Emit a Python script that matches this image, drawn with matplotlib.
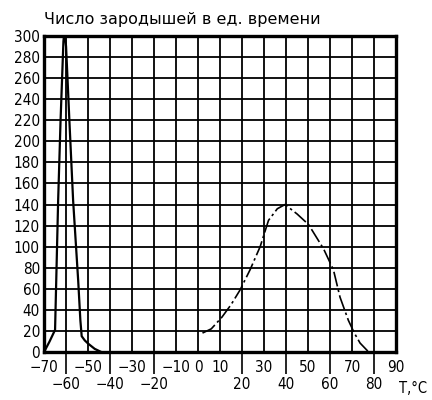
## nucleation rate vs temperature, two curves on a heavy grid

import matplotlib.pyplot as plt

# solid curve (left peak)
t_solid = [-70, -67.5, -65, -64.5, -63.6, -62.5, -61.2, -60.7, -60, -58.5, -56.8,
           -54.5, -53.5, -52.9, -51.5, -50, -47, -44]
n_solid = [0, 10, 21, 65, 144, 220, 295, 305, 290, 220, 144,
           68, 30, 15, 11, 8, 3, 0]

# dash-dot curve (right hump)
t_dash = [2, 6, 10.8, 15, 19.1, 23.6, 28.2, 32, 36, 39.5, 45, 50.2, 57,
          61.5, 64.5, 68.3, 71, 73.6, 77.5]
n_dash = [18, 22, 33, 45, 59, 78, 100, 125, 136, 140, 131, 121, 98,
          78, 52, 30, 18, 8.5, 0]

top_row = [-70, -50, -30, -10, 0, 10, 30, 50, 70, 90]
bottom_row = [-60, -40, -20, 20, 40, 60, 80]
y_ticks = list(range(0, 301, 20))

plt.rcParams['font.family'] = ['DejaVu Sans']
plt.rcParams['font.stretch'] = 'condensed'

fig = plt.figure(figsize=(4.32, 4.0), dpi=100)
ax = fig.add_axes([0.102, 0.12, 0.815, 0.79])

ax.plot(t_solid, n_solid, color='black', lw=1.6, zorder=3)
ax.plot(t_dash, n_dash, color='black', lw=1.2, linestyle=(0, (9, 2, 1.5, 2)), zorder=3)

ax.set_xlim(-70, 90)
ax.set_ylim(0, 300)

ax.set_xticks(top_row)
ax.set_xticklabels([str(v).replace('-', '\u2212') for v in top_row])
ax.set_xticks(bottom_row, minor=True)
ax.set_xticklabels([str(v).replace('-', '\u2212') for v in bottom_row], minor=True)
ax.set_yticks(y_ticks)

ax.tick_params(axis='x', which='major', length=0, pad=6, labelsize=11)
ax.tick_params(axis='x', which='minor', length=16, width=1.2, direction='out',
               pad=2, labelsize=11)
ax.tick_params(axis='y', length=0, pad=3, labelsize=11)

ax.grid(True, which='both', color='black', lw=1.3)
ax.set_axisbelow(True)
for s in ax.spines.values():
    s.set_linewidth(2.4)

ax.text(0.0, 1.03, 'Число зародышей в ед. времени', transform=ax.transAxes,
        fontsize=11.5, fontstretch='normal', ha='left', va='bottom')
ax.annotate('T,°C', xy=(1.0, 0), xycoords='axes fraction', xytext=(2, -26),
            textcoords='offset points', fontsize=10.5, ha='left', va='center')

fig.savefig('out.png', dpi=100)
